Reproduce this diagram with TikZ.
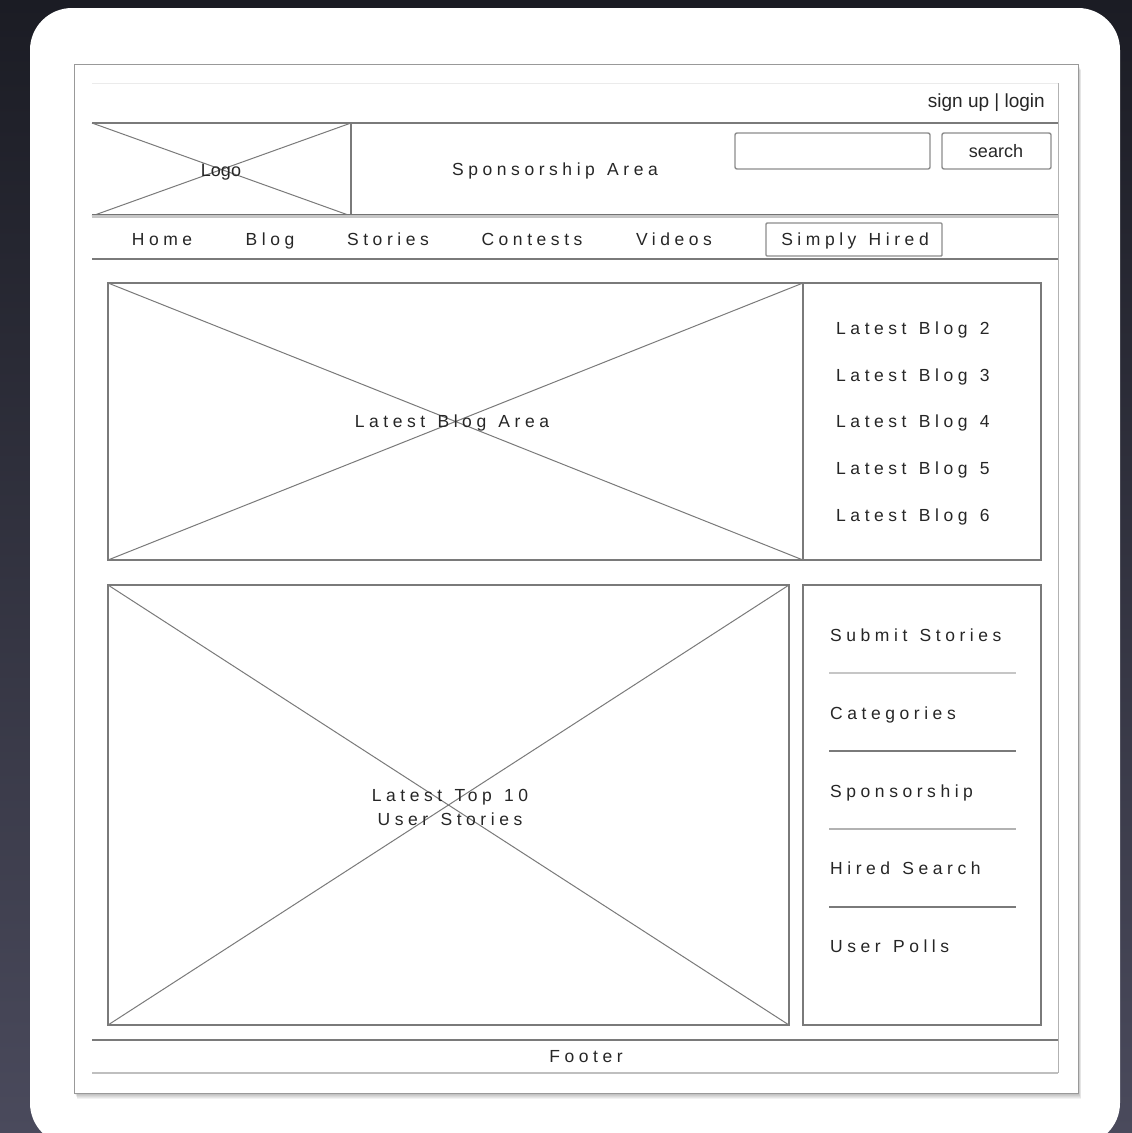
\documentclass[tikz,border=0pt]{standalone}
\usepackage{fontspec}
\setmainfont{Liberation Sans}
\newfontfamily\widefont[LetterSpace=26,WordSpace=1.3]{Liberation Sans}
\definecolor{bgtop}{HTML}{1B1C24}
\definecolor{bgbot}{HTML}{4A4A5C}
\definecolor{wline}{HTML}{7A7A7A}
\definecolor{lline}{HTML}{C6C6C6}
\definecolor{wtext}{HTML}{262626}
\begin{document}
\begin{tikzpicture}[x=1pt,y=-1pt,
  wire/.style={draw=wline,line width=1.3pt},
  softwire/.style={draw=lline,line width=2.6pt},
  lbl/.style={font=\widefont\fontsize{17.5}{24}\selectfont,text=wtext,inner sep=0pt,anchor=base},
  lbll/.style={lbl,anchor=base west},
  plain/.style={font=\fontsize{18}{21}\selectfont,text=wtext,inner sep=0pt,anchor=base},
  fieldbox/.style={draw=black!45,line width=1.4pt,rounded corners=2pt}]
\useasboundingbox (0,0) rectangle (1132,1133);
% background
\shade[top color=bgtop,bottom color=bgbot] (0,0) rectangle (1132,1133);
\fill[white,rounded corners=42pt] (30,8) rectangle (1120,1145);
% page shadow
\foreach \i in {1,...,6}{
  \fill[black,opacity=0.05] (74+\i*0.5,64+\i) rectangle (1078+\i*0.5,1093+\i);
}
\draw[draw=black!40,fill=white,line width=1pt] (74,64) rectangle (1078,1093);
% frame lines
\draw[draw=black!8,line width=1pt] (92,83) -- (1058,83);
\draw[draw=black!30,line width=1pt] (1058,83) -- (1058,1073);
\draw[wire] (92,123) -- (1058,123);
% logo
\coordinate (lgTL) at (92,123);
\coordinate (lgTR) at (351,123);
\coordinate (lgBL) at (92,216);
\coordinate (lgBR) at (351,216);
\draw[wire] (lgTR) -- (lgBR);
\draw[wire,line width=1pt] (lgTL) -- (lgBR) (lgBL) -- (lgTR);
% nav lines
\draw[softwire,line width=3.2pt] (92,216) -- (1058,216);
\draw[wire,draw=black!55,line width=0.8pt] (92,214.5) -- (1058,214.5);
\draw[wire] (92,259) -- (1058,259);
% search
\draw[fieldbox] (735,133) rectangle (930,169);
\draw[fieldbox] (942,133) rectangle (1051,169);
% simply hired box
\draw[fieldbox,rounded corners=1pt] (766,223) rectangle (942,256);
% blog area
\coordinate (bTL) at (108,283);
\coordinate (bTR) at (803,283);
\coordinate (bBL) at (108,560);
\coordinate (bBR) at (803,560);
\draw[wire] (108,283) rectangle (1041,560);
\draw[wire] (bTR) -- (bBR);
\draw[wire,line width=1pt] (bTL) -- (bBR) (bBL) -- (bTR);
% stories area
\coordinate (sTL) at (108,585);
\coordinate (sTR) at (789,585);
\coordinate (sBL) at (108,1025);
\coordinate (sBR) at (789,1025);
\draw[wire] (sTL) rectangle (sBR);
\draw[wire,line width=1pt] (sTL) -- (sBR) (sBL) -- (sTR);
\draw[wire] (803,585) rectangle (1041,1025);
% sidebar separators
\draw[softwire] (829,673) -- (1016,673);
\draw[wire] (829,751) -- (1016,751);
\draw[softwire,draw=black!30] (829,829) -- (1016,829);
\draw[wire] (829,907) -- (1016,907);
% footer lines
\draw[wire] (92,1040) -- (1058,1040);
\draw[softwire,line width=1.6pt,draw=black!25] (92,1073) -- (1058,1073);
% texts
\node[plain,font=\fontsize{19}{22}\selectfont,anchor=base east] (signup) at (1045,107) {sign up | login};
\node[plain] (logo) at (221,176) {Logo};
\node[lbl] (spons) at (555,175) {Sponsorship Area};
\node[plain] (search) at (996,157) {search};
\node[lbl] (home) at (162,245) {Home};
\node[lbl] (blog) at (270,245) {Blog};
\node[lbl] (stories) at (388,245) {Stories};
\node[lbl] (contests) at (532,245) {Contests};
\node[lbl] (videos) at (674,245) {Videos};
\node[lbl] (hired) at (855,245) {Simply Hired};
\node[lbl] (blogarea) at (452,427) {Latest Blog Area};
\foreach \n/\y in {2/334,3/381,4/427,5/474,6/521}{
  \node[lbll] (lb\n) at (836,\y) {Latest Blog \n};
}
\node[lbl] (top1) at (450,801) {Latest Top 10};
\node[lbl] (top2) at (450,825) {User Stories};
\node[lbll] (sub) at (830,641) {Submit Stories};
\node[lbll] (cat) at (830,719) {Categories};
\node[lbll] (spo) at (830,797) {Sponsorship};
\node[lbll] (hs) at (830,874) {Hired Search};
\node[lbll] (up) at (830,952) {User Polls};
\node[lbl] (footer) at (586,1062) {Footer};
\end{tikzpicture}
\end{document}
